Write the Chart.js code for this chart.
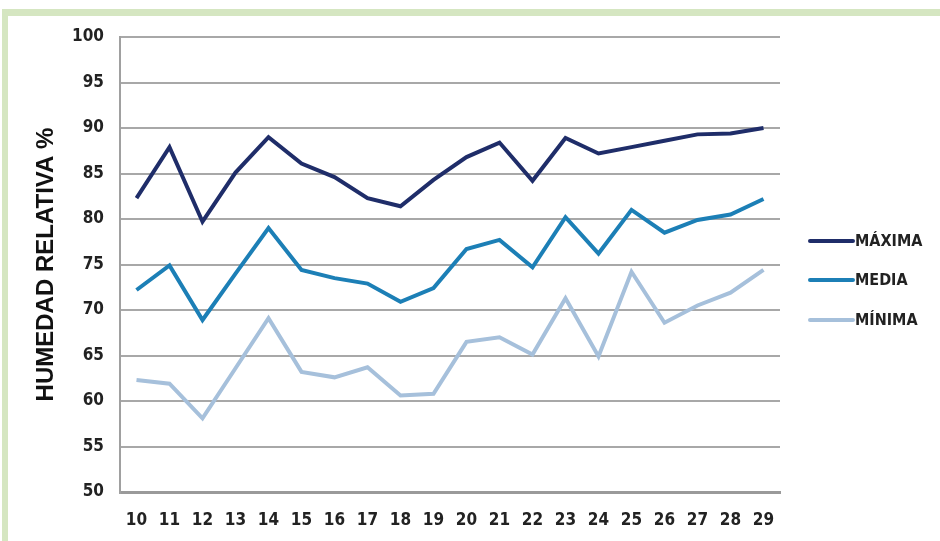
<!DOCTYPE html>
<html>
<head>
<meta charset="utf-8">
<script src="https://cdn.jsdelivr.net/npm/chart.js@4.4.1/dist/chart.umd.min.js"></script>
<style>
    html, body { margin: 0; padding: 0; background: #fff; }
    #wrap { position: relative; width: 940px; height: 541px; overflow: hidden; }
    #frameTop { position: absolute; left: 2px; top: 9px; width: 938px; height: 7px; background: #d5e6c1; }
    #frameLeft { position: absolute; left: 2px; top: 9px; width: 6px; height: 532px; background: #d5e6c1; }
    #chart { position: absolute; left: 0; top: 0; }
</style>
</head>
<body>
<div id="wrap">
    <div id="frameTop"></div>
    <div id="frameLeft"></div>
    <canvas id="chart" width="940" height="541"></canvas>
</div>
<script>
const days = ['10', '11', '12', '13', '14', '15', '16', '17', '18', '19', '20', '21', '22', '23', '24', '25', '26', '27', '28', '29'];
const maxima = [82.3, 87.9, 79.7, 85.1, 89.0, 86.1, 84.6, 82.3, 81.4, 84.3, 86.8, 88.4, 84.2, 88.9, 87.2, 87.9, 88.6, 89.3, 89.4, 90.0];
const media  = [72.2, 74.9, 68.9, 74.0, 79.0, 74.4, 73.5, 72.9, 70.9, 72.4, 76.7, 77.7, 74.7, 80.2, 76.2, 81.0, 78.5, 79.9, 80.5, 82.2];
const minima = [62.3, 61.9, 58.1, 63.6, 69.1, 63.2, 62.6, 63.7, 60.6, 60.8, 66.5, 67.0, 65.1, 71.3, 64.9, 74.2, 68.6, 70.5, 71.9, 74.4];
const seriesNames = ['MÁXIMA', 'MEDIA', 'MÍNIMA'];
const yMin = 50, yMax = 100, yStep = 5;

const labelFont = '"DejaVu Sans Condensed", "Liberation Sans Narrow", Arial, sans-serif';

// legend drawn at fixed spot to the right of the plot
const sideLegend = {
    id: 'sideLegend',
    afterDraw(chart) {
        const ctx = chart.ctx;
        const rows = [241, 280, 320];
        ctx.save();
        ctx.font = 'bold 16px ' + labelFont;
        ctx.textBaseline = 'middle';
        ctx.lineCap = 'round';
        chart.data.datasets.forEach((ds, i) => {
            const y = rows[i];
            ctx.strokeStyle = ds.borderColor;
            ctx.lineWidth = ds.borderWidth;
            ctx.beginPath();
            ctx.moveTo(810, y);
            ctx.lineTo(853, y);
            ctx.stroke();
            ctx.fillStyle = '#222';
            ctx.fillText(ds.label, 855, y + 1);
        });
        ctx.restore();
    }
};

new Chart(document.getElementById('chart'), {
    type: 'line',
    data: {
        labels: days,
        datasets: [
            { label: seriesNames[0], data: maxima, borderColor: '#1f2d69', backgroundColor: '#1f2d69' },
            { label: seriesNames[1], data: media, borderColor: '#1c7fb6', backgroundColor: '#1c7fb6' },
            { label: seriesNames[2], data: minima, borderColor: '#a6c0db', backgroundColor: '#a6c0db' }
        ].map(d => Object.assign(d, { borderWidth: 4, tension: 0, pointRadius: 0, fill: false }))
    },
    options: {
        responsive: false,
        animation: false,
        layout: { padding: { top: 37, right: 160, bottom: 0, left: 0 } },
        plugins: { legend: { display: false }, tooltip: { enabled: false } },
        scales: {
            x: {
                offset: true,
                grid: { display: false, drawTicks: false, offset: true },
                border: { display: true, color: '#9a9a9a', width: 3 },
                ticks: { color: '#222', padding: 18, font: { family: labelFont, size: 17, weight: 'bold' } },
                afterFit(scale) { scale.height = 49; }
            },
            y: {
                min: yMin,
                max: yMax,
                grid: {
                    color: '#a8a8a8',
                    lineWidth: c => (c.tick && c.tick.value === yMin ? 3 : 2),
                    drawTicks: false
                },
                border: { display: true, color: '#a0a0a0', width: 2 },
                ticks: { stepSize: yStep, color: '#222', padding: 16, font: { family: labelFont, size: 17, weight: 'bold' } },
                title: {
                    display: true,
                    text: 'HUMEDAD RELATIVA %',
                    color: '#111',
                    padding: { top: 32, bottom: 0 },
                    font: { family: '"Liberation Sans", Arial, sans-serif', size: 24, weight: 'bold' }
                },
                afterFit(scale) { scale.width = 120; }
            }
        }
    },
    plugins: [sideLegend]
});
</script>
</body>
</html>
